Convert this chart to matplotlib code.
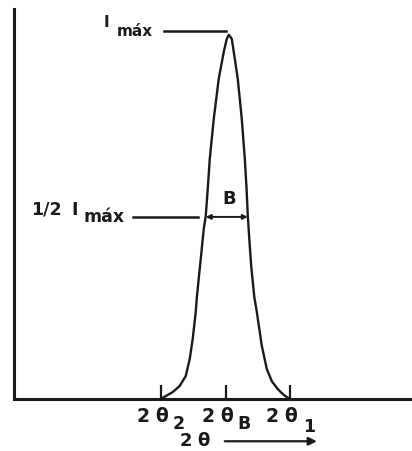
import matplotlib
matplotlib.use("Agg")
import matplotlib.pyplot as plt

# ---- data (2theta in arbitrary units, intensity normalised to I_max) ----
two_theta = [-1.008, -0.930, -0.822, -0.713, -0.620, -0.558, -0.512, -0.465,
             -0.450, -0.419, -0.372, -0.341, -0.310, -0.279, -0.248, -0.186,
             -0.109, -0.031, 0.016, 0.047,
             0.093, 0.124, 0.186, 0.248, 0.295, 0.322, 0.341, 0.364, 0.395,
             0.442, 0.481, 0.558, 0.636, 0.713, 0.806, 0.899, 0.992]
intensity = [0.000, 0.008, 0.019, 0.036, 0.063, 0.110, 0.165, 0.239,
             0.275, 0.330, 0.412, 0.467, 0.503, 0.577, 0.659, 0.769,
             0.879, 0.953, 0.989, 1.000,
             0.989, 0.953, 0.879, 0.769, 0.659, 0.577, 0.503, 0.440, 0.363,
             0.280, 0.239, 0.146, 0.082, 0.049, 0.027, 0.011, 0.000]
tick_positions = [-1.0, 0.0, 1.0]          # 2θ2, 2θB, 2θ1
tick_subs = ["2", "B", "1"]
i_max = 1.0
half_max = 0.5
fwhm_left, fwhm_right = -0.310, 0.341

fig = plt.figure(figsize=(4.12, 4.52), dpi=100)
ax = fig.add_axes([0.0328, 0.115, 1.0 - 0.0328, 0.978 - 0.115])
ax.set_xlim(-3.287, 2.884)
ax.set_ylim(0, 1.071)

ax.plot(two_theta, intensity, color="#1a1a1a", lw=1.7,
        solid_joinstyle="round", solid_capstyle="round")

for s in ["top", "right"]:
    ax.spines[s].set_visible(False)
for s in ["left", "bottom"]:
    ax.spines[s].set_linewidth(2.2)
    ax.spines[s].set_color("#1a1a1a")

ax.set_yticks([])
ax.set_xticks(tick_positions)
ax.set_xticklabels([])
ax.tick_params(axis="x", direction="in", length=10, width=1.6, color="#1a1a1a")

bold = dict(fontweight="bold", family="DejaVu Sans", color="#1a1a1a")

# I_max label and line
ax.plot([-0.961, 0.0], [i_max * 1.011, i_max * 1.011], color="#1a1a1a", lw=1.8)
ax.text(-1.845, 1.037, "I", ha="center", va="center", fontsize=11, **bold)
ax.text(-1.403, 0.999, "máx", ha="center", va="baseline", fontsize=11, **bold)

# 1/2 I_max label and line
ax.plot([-1.442, -0.426], [half_max, half_max], color="#1a1a1a", lw=1.8)
ax.text(-2.775, 0.508, "1/2", ha="center", va="baseline", fontsize=12.5, **bold)
ax.text(-2.341, 0.508, "I", ha="center", va="baseline", fontsize=12.5, **bold)
ax.text(-1.891, 0.489, "máx", ha="center", va="baseline", fontsize=12.5, **bold)

# FWHM arrow B
ax.annotate("", xy=(fwhm_right, half_max), xytext=(fwhm_left, half_max),
            arrowprops=dict(arrowstyle="<|-|>", color="#1a1a1a", lw=1.4,
                            mutation_scale=7, shrinkA=0, shrinkB=0))
ax.text(0.047, 0.552, "B", ha="center", va="center", fontsize=13, **bold)

# tick labels, glyph by glyph to mimic the wide lettering
main_offsets = [(-0.279, "2"), (0.008, "θ")]
sub_dx = [0.271, 0.287, 0.295]
sub_y = [-0.066, -0.066, -0.074]
for pos, sub, dx, sy in zip(tick_positions, tick_subs, sub_dx, sub_y):
    for off, ch in main_offsets:
        ax.text(pos + off, -0.044, ch, ha="center", va="center",
                fontsize=13.5, **bold)
    ax.text(pos + dx, sy, sub, ha="center", va="center", fontsize=12.5, **bold)

# axis name with arrow
ax.text(-0.612, -0.113, "2", ha="center", va="center", fontsize=13, **bold)
ax.text(-0.341, -0.113, "θ", ha="center", va="center", fontsize=13, **bold)
ax.annotate("", xy=(1.411, -0.116), xytext=(-0.016, -0.116),
            xycoords="data", annotation_clip=False,
            arrowprops=dict(arrowstyle="-|>", color="#1a1a1a", lw=1.6,
                            mutation_scale=12, shrinkA=0, shrinkB=0))

fig.savefig("out.png", dpi=100)
